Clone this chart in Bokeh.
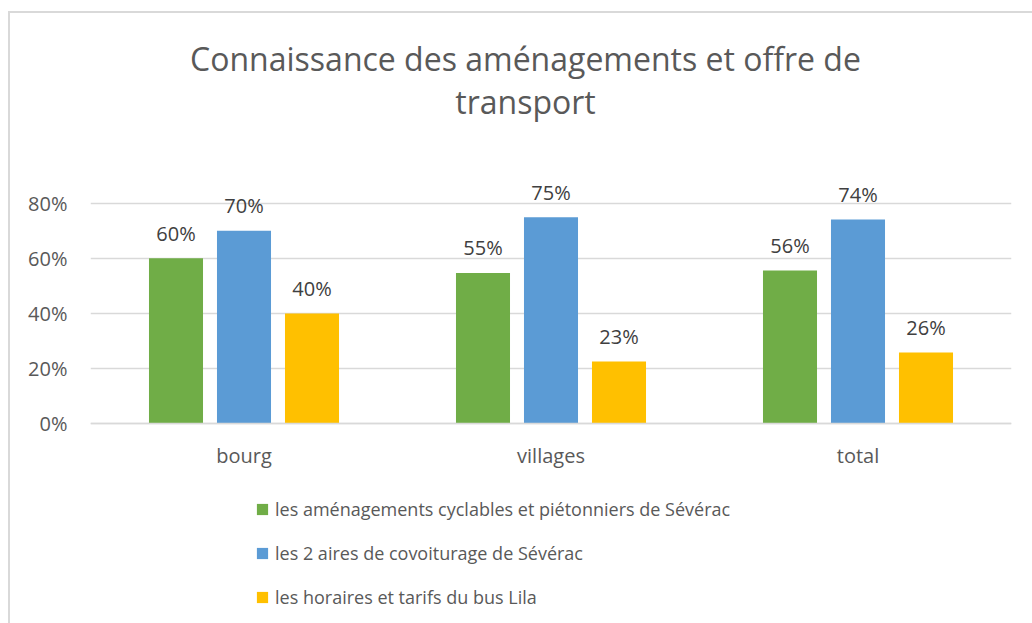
from bokeh.plotting import figure
from bokeh.models import (FactorRange, Range1d, FixedTicker, NumeralTickFormatter,
                          Legend, LegendItem, Label, ColumnDataSource)
from bokeh.transform import dodge
from bokeh.core.properties import value
from bokeh.embed import file_html
from bokeh.resources import INLINE

# ---- data ----
categories = ["bourg", "villages", "total"]
series_names = [
    "les aménagements cyclables et piétonniers de Sévérac",
    "les 2 aires de covoiturage de Sévérac",
    "les horaires et tarifs du bus Lila",
]
amenagements = [0.60, 0.547, 0.556]
aires = [0.70, 0.749, 0.741]
bus = [0.40, 0.226, 0.259]
y_ticks = [0, 0.2, 0.4, 0.6, 0.8]
title_lines = ["Connaissance des aménagements et offre de", "transport"]

colors = ["#70AD47", "#5B9BD5", "#FFC000"]
FONT = "Open Sans"


def pct(vals):
    return ["%d%%" % round(v * 100) for v in vals]


source = ColumnDataSource(dict(
    cat=categories,
    a=amenagements, b=aires, c=bus,
    la=pct(amenagements), lb=pct(aires), lc=pct(bus),
))

# the frame covers the whole height (title, plot area and legend);
# the category axis is pinned at y = 0 inside the frame
p = figure(
    x_range=FactorRange(*categories, range_padding=0),
    y_range=Range1d(-0.7242, 1.488),
    frame_width=921, frame_height=610,
    min_border_left=80, min_border_right=21, min_border_top=0, min_border_bottom=0,
    output_backend="svg", toolbar_location=None,
)
p.styles = {"border-left": "2px solid #d9d9d9", "border-top": "2px solid #d9d9d9",
            "margin-top": "11px", "margin-left": "8px"}

p.outline_line_color = None
p.background_fill_color = "white"
p.border_fill_color = "white"

offsets = [-0.2215, 0.0, 0.2215]
keys = ["a", "b", "c"]
lkeys = ["la", "lb", "lc"]
renderers = []
for off, k, lk, col in zip(offsets, keys, lkeys, colors):
    r = p.vbar(x=dodge("cat", off, range=p.x_range), top=k, width=0.176,
               source=source, fill_color=col, line_color=None)
    renderers.append(r)
    p.text(x=dodge("cat", off, range=p.x_range), y=k, text=lk, source=source,
           text_align="center", text_baseline="alphabetic", y_offset=-25,
           text_font=value(FONT), text_font_size="20px", text_color="#404040")

# axes
p.yaxis.ticker = FixedTicker(ticks=y_ticks)
p.yaxis.formatter = NumeralTickFormatter(format="0%")
p.yaxis.axis_line_color = None
p.yaxis.major_tick_line_color = None
p.yaxis.minor_tick_line_color = None
p.yaxis.major_tick_out = 0
p.yaxis.major_label_standoff = 23
p.yaxis.major_label_text_font = FONT
p.yaxis.major_label_text_font_size = "20px"
p.yaxis.major_label_text_color = "#595959"

p.xaxis.fixed_location = 0
p.xaxis.axis_line_color = "#d9d9d9"
p.xaxis.axis_line_width = 1.5
p.xaxis.major_tick_line_color = None
p.xaxis.minor_tick_line_color = None
p.xaxis.major_tick_out = 0
p.xaxis.major_label_standoff = 18
p.xaxis.major_label_text_font = FONT
p.xaxis.major_label_text_font_size = "20px"
p.xaxis.major_label_text_color = "#595959"

p.xgrid.grid_line_color = None
p.ygrid.ticker = FixedTicker(ticks=y_ticks)
p.ygrid.grid_line_color = "#d9d9d9"
p.ygrid.grid_line_width = 1.5

# title, two centred lines (screen units, from the frame's bottom-left)
for line, ty in zip(title_lines, [565, 522]):
    p.add_layout(Label(x=435, y=ty, x_units="screen", y_units="screen", text=line,
                       text_align="center", text_baseline="middle",
                       text_font=FONT, text_font_size="32px", text_color="#595959"))

legend = Legend(
    items=[LegendItem(label=n, renderers=[r]) for n, r in zip(series_names, renderers)],
    orientation="vertical", location=(165, 14),
    glyph_width=14, glyph_height=14, label_height=20, label_standoff=6, spacing=20,
    padding=0, margin=0, border_line_alpha=0, background_fill_alpha=0,
    label_text_font=FONT, label_text_font_size="18px", label_text_color="#595959",
)
p.add_layout(legend, "center")

open("out.html", "w").write(file_html(p, INLINE))
